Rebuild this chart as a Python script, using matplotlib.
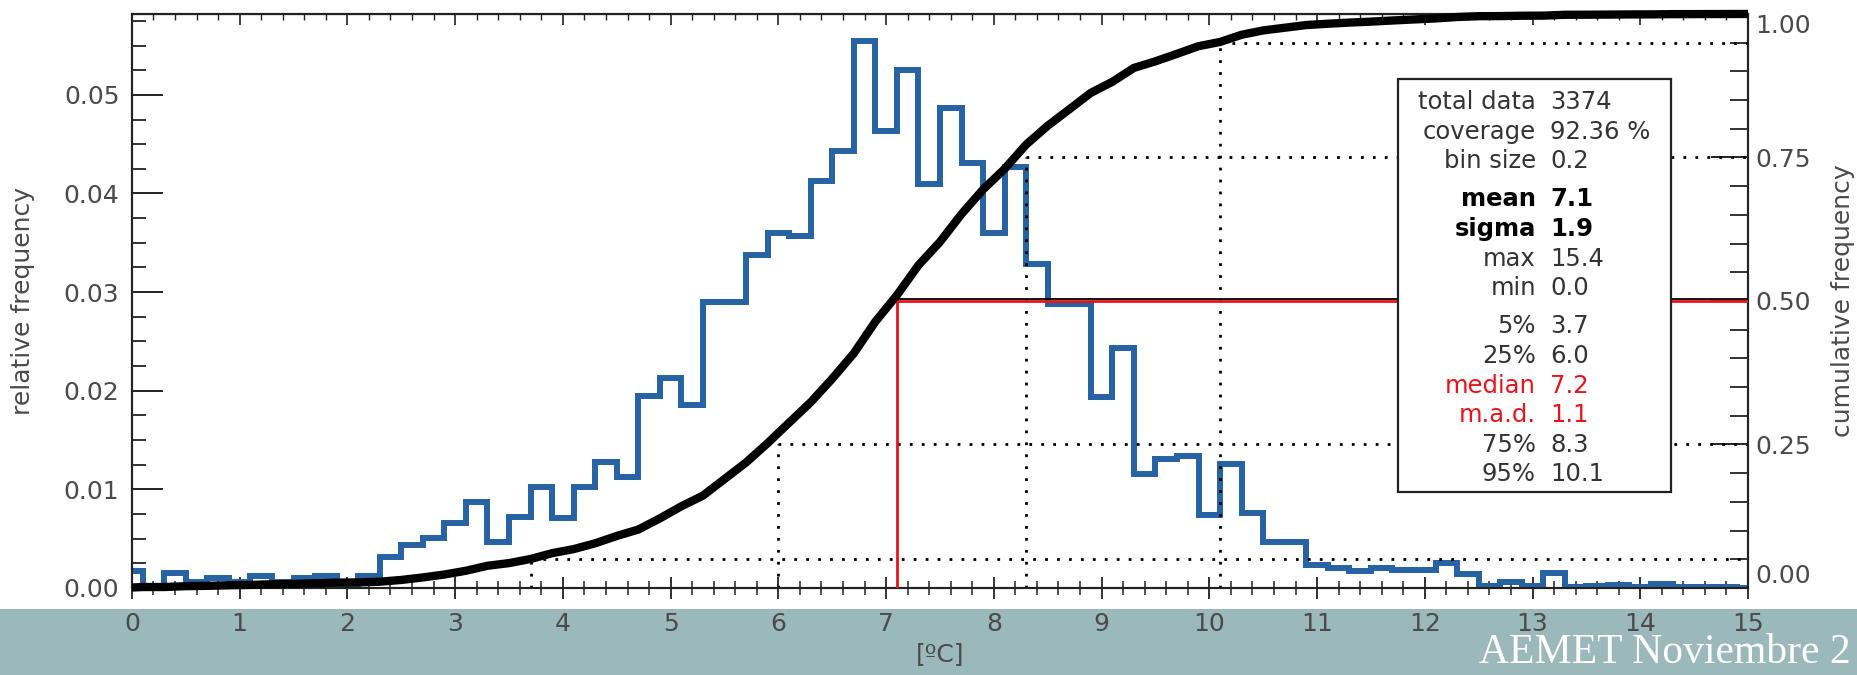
import numpy as np
import matplotlib
matplotlib.use("Agg")
import matplotlib.pyplot as plt
from matplotlib.patches import Rectangle
from matplotlib.ticker import MultipleLocator, FormatStrFormatter
from matplotlib.transforms import offset_copy

# ---- data ----
BIN_SIZE = 0.2
# relative frequency per bin, bins centred on 0.0, 0.2, ..., 15.0
REL_FREQ = [
    0.0017, 0.0000, 0.0015, 0.0006, 0.0010, 0.0006, 0.0012, 0.0006, 0.0010, 0.0012,
    0.0004, 0.0012, 0.0031, 0.0044, 0.0051, 0.0066, 0.0087, 0.0047, 0.0072, 0.0102,
    0.0071, 0.0102, 0.0128, 0.0113, 0.0195, 0.0213, 0.0186, 0.0290, 0.0290, 0.0338,
    0.0360, 0.0357, 0.0413, 0.0443, 0.0555, 0.0463, 0.0525, 0.0410, 0.0487, 0.0431,
    0.0360, 0.0427, 0.0329, 0.0288, 0.0288, 0.0194, 0.0243, 0.0116, 0.0131, 0.0134,
    0.0074, 0.0126, 0.0076, 0.0047, 0.0047, 0.0023, 0.0020, 0.0017, 0.0020, 0.0018,
    0.0018, 0.0025, 0.0014, 0.0002, 0.0006, 0.0002, 0.0015, 0.0001, 0.0002, 0.0003,
    0.0001, 0.0004, 0.0001, 0.0001, 0.0001, 0.0000,
]

PCT_LEVELS = [0.05, 0.25, 0.75, 0.95]
PCT_VALUES = [3.7, 6.0, 8.3, 10.1]
CUM_TICKS = [0.0, 0.25, 0.5, 0.75, 1.0]

STAT_LABELS = ["total data", "coverage", "bin size", "mean", "sigma", "max", "min",
               "5%", "25%", "median", "m.a.d.", "75%", "95%"]
STAT_VALUES = ["3374", "92.36 %", "0.2", "7.1", "1.9", "15.4", "0.0",
               "3.7", "6.0", "7.2", "1.1", "8.3", "10.1"]
STAT_GROUP = [0, 0, 0, 1, 1, 1, 1, 2, 2, 2, 2, 2, 2]
STAT_COLOR = ["#333333"] * 3 + ["black"] * 2 + ["#333333"] * 4 + ["#e8141c"] * 2 + ["#333333"] * 2
STAT_BOLD = [False] * 3 + [True] * 2 + [False] * 8

X_MAX = 15
BLUE = "#2762a3"
RED = "#e8141c"
GREY = "#4a4a4a"
TEAL = "#9bb8bb"

rel = np.array(REL_FREQ)
centers = BIN_SIZE * np.arange(len(rel))
edges = np.append(centers - BIN_SIZE / 2, centers[-1] + BIN_SIZE / 2)
cum = np.cumsum(rel) / rel.sum()
median_x = edges[np.argmax(cum >= 0.5) + 1]

fig = plt.figure(figsize=(18.58, 6.75), dpi=100)
ax = fig.add_axes([0.0710, 0.1289, 0.8698, 0.8504])
ax2 = ax.twinx()

# teal footer band
fig.add_artist(Rectangle((0, 0), 1, 66 / 675, transform=fig.transFigure,
                         facecolor=TEAL, edgecolor="none", zorder=-1))

# ---- histogram ----
ax.stairs(rel, edges, baseline=None, color=BLUE, linewidth=4.3, zorder=3)
ax.set_xlim(0, X_MAX)
ax.set_ylim(0, 0.0582)

ax.xaxis.set_major_locator(MultipleLocator(1))
ax.xaxis.set_minor_locator(MultipleLocator(0.2))
ax.yaxis.set_major_locator(MultipleLocator(0.01))
ax.yaxis.set_minor_locator(MultipleLocator(0.0025))
ax.yaxis.set_major_formatter(FormatStrFormatter("%.2f"))
ax.tick_params(axis="x", which="major", direction="inout", length=16.5, width=1.3,
               pad=9, labelsize=18, labelcolor=GREY, color="#222222")
ax.tick_params(axis="x", which="minor", direction="inout", length=9.4, width=1.1, color="#222222")
ax.tick_params(axis="y", which="major", direction="in", length=22, width=1.4,
               pad=9, labelsize=18, labelcolor=GREY, color="#222222")
ax.tick_params(axis="y", which="minor", direction="in", length=10, width=1.3, color="#222222")

top = ax.secondary_xaxis("top")
top.xaxis.set_major_locator(MultipleLocator(1))
top.xaxis.set_minor_locator(MultipleLocator(0.2))
top.tick_params(which="major", direction="in", length=8, width=1.2, labeltop=False, color="#222222")
top.tick_params(which="minor", direction="in", length=4.3, width=1.0, color="#222222")

ax.set_xlabel("[ºC]", fontsize=18, color=GREY)
ax.xaxis.set_label_coords(0.5, -0.094)
ax.set_ylabel("relative frequency", fontsize=18, color=GREY)
ax.yaxis.set_label_coords(-0.06, 0.5)

# ---- cumulative curve ----
ax2.set_ylim(0, 1)
ax2.set_xlim(0, X_MAX)
ax2.set_yticks(CUM_TICKS)
ax2.yaxis.set_minor_locator(MultipleLocator(0.05))
ax2.yaxis.set_major_formatter(FormatStrFormatter("%.2f"))
ax2.tick_params(axis="y", which="major", direction="in", length=27, width=1.4,
                pad=5, labelsize=18, labelcolor=GREY, color="#222222")
ax2.tick_params(axis="y", which="minor", direction="in", length=13, width=1.3, color="#222222")
ax2.set_ylabel("cumulative frequency", fontsize=18, color=GREY)
ax2.yaxis.set_label_coords(1.0513, 0.5)
# end labels pulled inside the axis range, as in the original
cum_labels = ax2.get_yticklabels()
cum_labels[0].set_verticalalignment("bottom")
cum_labels[-1].set_verticalalignment("top")

# cumulative value reached at the right edge of each bin
cum_x = edges
cum_y = np.concatenate([[0.0], cum])
(cum_line,) = ax2.plot(cum_x, cum_y, color="black", linewidth=6,
                       solid_joinstyle="miter", zorder=5)
cum_line.set_clip_path(Rectangle((0, -0.02), 1, 1.04, transform=ax2.transAxes))

for p, xv in zip(PCT_LEVELS, PCT_VALUES):
    ax2.plot([xv, xv], [0, p], color="black", linewidth=2, linestyle=(0, (1, 3.3)), zorder=2)
    ax2.plot([xv, X_MAX], [p, p], color="black", linewidth=2, linestyle=(0, (1, 3.3)), zorder=2)

# median lines (thin black edge on top of the red horizontal)
shift_up = offset_copy(ax2.transData, fig=fig, x=0, y=2, units="dots")
ax2.plot([median_x, X_MAX], [0.5, 0.5], color="black", linewidth=1.3, transform=shift_up, zorder=4)
ax2.plot([median_x, X_MAX], [0.5, 0.5], color=RED, linewidth=2, zorder=4)
ax2.plot([median_x, median_x], [0, 0.5], color=RED, linewidth=2, zorder=4)

for spine in list(ax.spines.values()) + list(ax2.spines.values()):
    spine.set_linewidth(1.5)
    spine.set_color("#222222")

# ---- stats box ----
ax2.add_patch(Rectangle((0.7834, 0.1672), 0.1690, 0.7196, transform=ax2.transAxes,
                        facecolor="white", edgecolor="#222222", linewidth=1.6, zorder=10))
row_top, row_step, group_gap = 0.8467, 0.0516, 0.0148
for i, (lab, val) in enumerate(zip(STAT_LABELS, STAT_VALUES)):
    y = row_top - i * row_step - STAT_GROUP[i] * group_gap
    kw = dict(transform=ax2.transAxes, fontsize=17.5, va="center", color=STAT_COLOR[i],
              fontweight="bold" if STAT_BOLD[i] else "normal", zorder=11)
    ax2.text(0.8688, y, lab, ha="right", **kw)
    ax2.text(0.8775, y, val, ha="left", **kw)

fig.text(0.7962, 0.0178, "AEMET Noviembre 2", fontsize=30, color="white",
         family=["Liberation Serif", "DejaVu Serif"], ha="left", va="baseline")

fig.savefig("out.png", dpi=100)
